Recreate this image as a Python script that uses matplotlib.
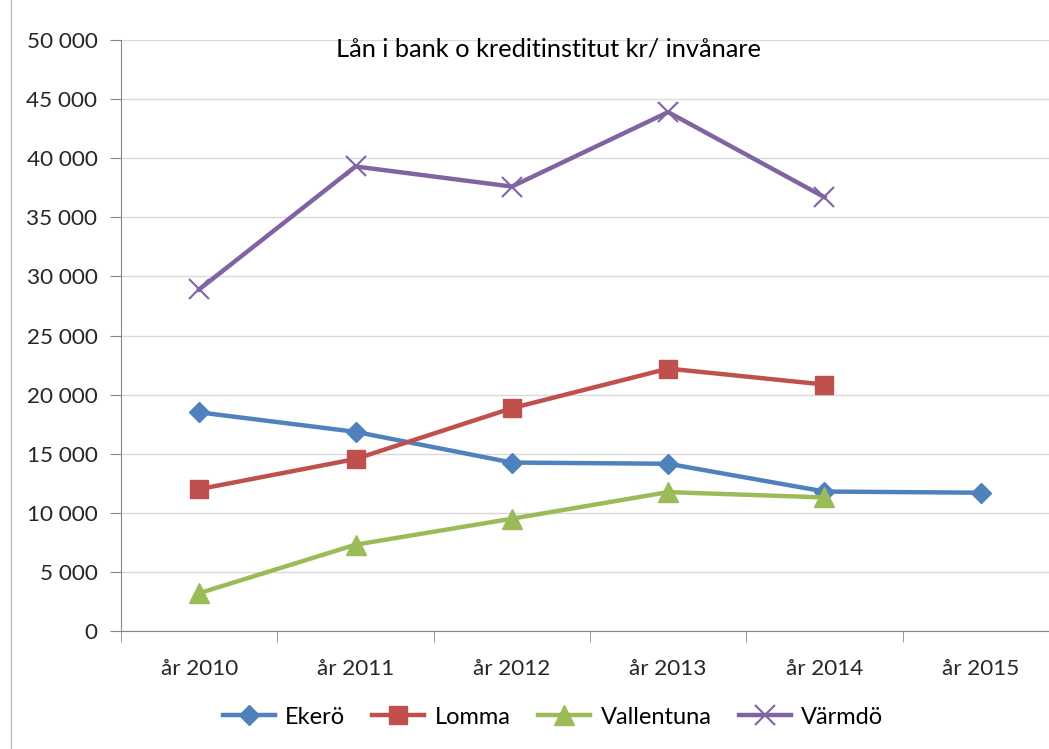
import matplotlib.pyplot as plt
import numpy as np
from matplotlib.ticker import FuncFormatter

plt.rcParams['font.family'] = ['Lato', 'DejaVu Sans']

ar = ["år 2010", "år 2011", "år 2012", "år 2013", "år 2014", "år 2015"]
ekero = [18500, 16850, 14250, 14150, 11800, 11700]
lomma = [12000, 14550, 18850, 22200, 20850, np.nan]
vallentuna = [3200, 7300, 9500, 11750, 11300, np.nan]
varmdo = [28900, 39300, 37600, 43900, 36700, np.nan]

fig = plt.figure(figsize=(10.49, 7.49), dpi=100)
ax = fig.add_axes([121 / 1049, 1 - 631 / 749, 938 / 1049, 591 / 749])

x = np.arange(len(ar))
ax.plot(x, ekero, color="#4F81BD", lw=3.2, marker="D", ms=10.5, label="Ekerö")
ax.plot(x, lomma, color="#C0504D", lw=3.2, marker="s", ms=13.5, label="Lomma")
ax.plot(x, vallentuna, color="#9BBB59", lw=3.2, marker="^", ms=15, label="Vallentuna")
ax.plot(x, varmdo, color="#8064A2", lw=3.2, marker="x", ms=14, mew=1.5, label="Värmdö")

ax.set_xlim(-0.5, len(ar) - 0.5)
ax.set_ylim(0, 50000)
ax.set_yticks(np.arange(0, 50001, 5000))
ax.yaxis.set_major_formatter(FuncFormatter(lambda v, p: f"{int(v):,}".replace(",", " ")))
ax.set_xticks(x)
ax.set_xticklabels(ar)
ax.set_xticks(np.arange(-0.5, len(ar)), minor=True)
ax.tick_params(axis="x", which="major", length=0, pad=20, labelsize=16.2, colors="#262626")
ax.tick_params(axis="x", which="minor", length=8, color="#868686")
ax.tick_params(axis="y", length=8, color="#868686", labelsize=16.2, pad=9, labelcolor="#262626")

ax.grid(axis="y", color="#d9d9d9", lw=1)
ax.set_axisbelow(True)
for s in ["top", "right"]:
    ax.spines[s].set_visible(False)
for s in ["left", "bottom"]:
    ax.spines[s].set_color("#868686")

fig.text(548 / 1049, 1 - 49 / 749, "Lån i bank o kreditinstitut kr/ invånare",
         ha="center", va="center", fontsize=18.3, color="black")

fig.legend(loc="center", bbox_to_anchor=(553 / 1049, 1 - 717 / 749), ncol=4, frameon=False,
           fontsize=17, handlelength=2.2, columnspacing=1.15, handletextpad=0.45)

fig.add_artist(plt.Line2D([11 / 1049, 11 / 1049], [0, 1], color="#bfbfbf", lw=1))

fig.savefig("out.png", dpi=100)
